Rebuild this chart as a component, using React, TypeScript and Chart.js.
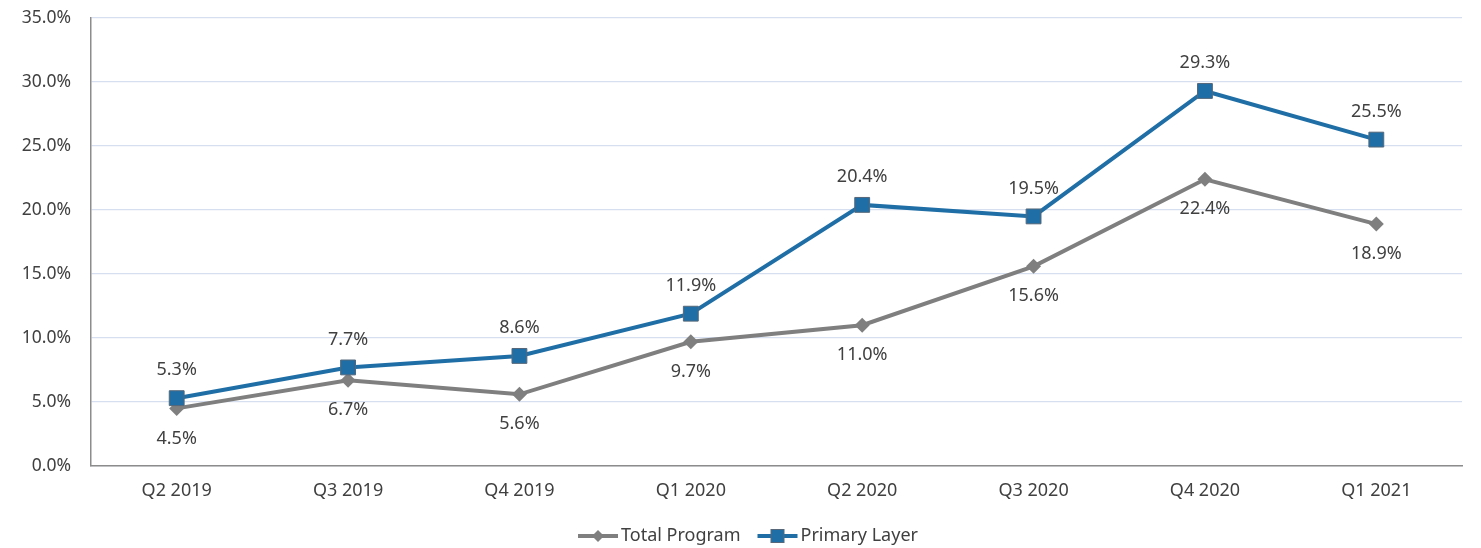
import React, { useEffect, useRef } from "react";
import { Chart, registerables } from "chart.js";

Chart.register(...registerables);

const categories = ["Q2 2019", "Q3 2019", "Q4 2019", "Q1 2020", "Q2 2020", "Q3 2020", "Q4 2020", "Q1 2021"];
const totalProgram = [4.5, 6.7, 5.6, 9.7, 11.0, 15.6, 22.4, 18.9];
const primaryLayer = [5.3, 7.7, 8.6, 11.9, 20.4, 19.5, 29.3, 25.5];
const yTicks = [0, 5, 10, 15, 20, 25, 30, 35];

const FONT = "'Noto Sans', 'Open Sans', sans-serif";
const BLUE = "#1f6ea6";
const GRAY = "#7f7f7f";
const TEXT = "#404040";

function drawIcon(ctx: CanvasRenderingContext2D, kind: string, x: number, y: number, w: number) {
  ctx.save();
  ctx.strokeStyle = kind === "diamond" ? GRAY : BLUE;
  ctx.lineWidth = 4;
  ctx.beginPath();
  ctx.moveTo(x, y);
  ctx.lineTo(x + w, y);
  ctx.stroke();
  const cx = x + w / 2;
  if (kind === "diamond") {
    ctx.fillStyle = GRAY;
    ctx.beginPath();
    ctx.moveTo(cx, y - 6);
    ctx.lineTo(cx + 6, y);
    ctx.lineTo(cx, y + 6);
    ctx.lineTo(cx - 6, y);
    ctx.closePath();
    ctx.fill();
  } else {
    ctx.fillStyle = BLUE;
    ctx.strokeStyle = "#56687a";
    ctx.lineWidth = 1;
    ctx.fillRect(cx - 6.5, y - 6.5, 13, 13);
    ctx.strokeRect(cx - 6.5, y - 6.5, 13, 13);
  }
  ctx.restore();
}

const legendPlugin = {
  id: "customLegend",
  afterDraw(chart: any) {
    const ctx = chart.ctx;
    ctx.save();
    ctx.font = `18px ${FONT}`;
    ctx.fillStyle = TEXT;
    ctx.textBaseline = "middle";
    ctx.textAlign = "left";
    const iconW = 40;
    const gap = 3;
    const itemGap = 17;
    const items = chart.data.datasets.map((ds: any, i: number) => ({
      text: ds.label,
      kind: i === 0 ? "diamond" : "square",
      tw: ctx.measureText(ds.label).width,
    }));
    const total = items.reduce((a: number, it: any) => a + iconW + gap + it.tw, 0) + itemGap * (items.length - 1);
    let x = 748 - total / 2;
    const y = 536;
    items.forEach((it: any) => {
      drawIcon(ctx, it.kind, x, y, iconW);
      x += iconW + gap;
      ctx.fillText(it.text, x, y);
      x += it.tw + itemGap;
    });
    ctx.restore();
  },
};

const dataLabelPlugin = {
  id: "dataLabels",
  afterDatasetsDraw(chart: any) {
    const ctx = chart.ctx;
    ctx.save();
    ctx.font = `18px ${FONT}`;
    ctx.fillStyle = TEXT;
    ctx.textAlign = "center";
    ctx.textBaseline = "middle";
    chart.data.datasets.forEach((ds: any, i: number) => {
      const meta = chart.getDatasetMeta(i);
      meta.data.forEach((pt: any, j: number) => {
        const v = ds.data[j];
        const off = ds.labelPos === "above" ? -28 : 30;
        ctx.fillText(v.toFixed(1) + "%", pt.x, pt.y + off);
      });
    });
    ctx.restore();
  },
};

export default function App() {
  const ref = useRef<HTMLCanvasElement | null>(null);
  useEffect(() => {
    if (!ref.current) return;
    const chart = new Chart(ref.current, {
      type: "line",
      data: {
        labels: categories,
        datasets: [
          {
            label: "Total Program",
            data: totalProgram,
            borderColor: GRAY,
            backgroundColor: GRAY,
            borderWidth: 4,
            pointStyle: "rectRot",
            pointRadius: 7.5,
            pointBorderWidth: 0,
            pointBackgroundColor: GRAY,
            tension: 0,
            clip: false,
            labelPos: "below",
            order: 2,
          } as any,
          {
            label: "Primary Layer",
            data: primaryLayer,
            borderColor: BLUE,
            backgroundColor: BLUE,
            borderWidth: 4,
            pointStyle: "rect",
            pointRadius: 10.5,
            pointBorderWidth: 1,
            pointBorderColor: "#56687a",
            pointBackgroundColor: BLUE,
            tension: 0,
            clip: false,
            labelPos: "above",
            order: 1,
          } as any,
        ],
      },
      options: {
        animation: false,
        responsive: true,
        maintainAspectRatio: false,
        layout: { autoPadding: false, padding: { left: 0, right: 19, top: 18, bottom: 36 } },
        plugins: {
          tooltip: { enabled: false },
          legend: { display: false },
        },
        scales: {
          x: {
            offset: true,
            grid: { display: false, drawTicks: false },
            border: { display: true, color: "#8c8c8c", width: 1.5 },
            ticks: { color: TEXT, font: { family: FONT, size: 18 }, padding: 14, maxRotation: 0 },
            afterFit: (s: any) => {
              s.height = 46;
            },
          },
          y: {
            min: 0,
            max: 35,
            afterBuildTicks: (s: any) => {
              s.ticks = yTicks.map((v) => ({ value: v }));
            },
            grid: {
              color: "#d5dff0",
              lineWidth: 1.2,
              drawTicks: true,
              tickLength: 17,
              tickColor: "rgba(0,0,0,0)",
            },
            border: { display: true, color: "#8c8c8c", width: 1.5 },
            ticks: {
              color: TEXT,
              font: { family: FONT, size: 17.5 },
              padding: 3,
              callback: (v: any) => Number(v).toFixed(1) + "%",
            },
            afterFit: (s: any) => {
              s.width = 91;
            },
          },
        },
      },
      plugins: [dataLabelPlugin, legendPlugin],
    });
    return () => chart.destroy();
  }, []);
  return (
    <div style={{ position: "absolute", left: 0, top: 0, width: 1481, height: 548, background: "#fff" }}>
      <canvas ref={ref} />
    </div>
  );
}
